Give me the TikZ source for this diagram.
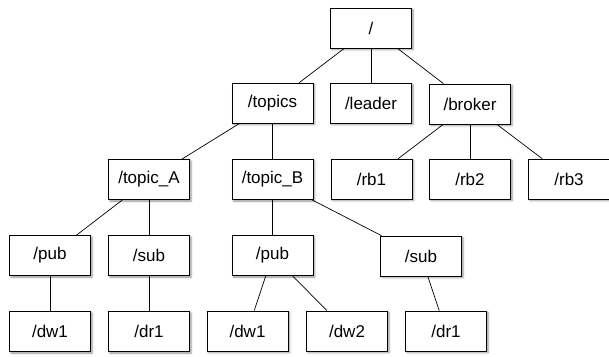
\documentclass[tikz,border=0pt]{standalone}
\usepackage{fontspec}
\setmainfont{Liberation Sans}
\usepackage{tikz}
\usetikzlibrary{shadows.blur}

\begin{document}
\begin{tikzpicture}[x=1pt, y=-1pt,
    znode/.style={draw, fill=white, line width=0.8pt,
      minimum width=81pt, minimum height=40pt, inner sep=0pt,
      font=\fontsize{17}{20}\selectfont,
      blur shadow={shadow xshift=1.5pt, shadow yshift=-1.5pt,
        shadow blur radius=2pt, shadow opacity=45}},
    zedge/.style={line width=0.7pt}]

    \useasboundingbox (0, 0) rectangle (609, 356);

    \node [znode] (root) at (371, 28) {/};

    \node [znode] (topics) at (272.5, 103) {/topics};
    \node [znode] (leader) at (371, 103) {/leader};
    \node [znode] (broker) at (470, 104) {/broker};

    \node [znode] (topicA) at (149, 179.5) {/topic\_A};
    \node [znode] (topicB) at (272.5, 179.5) {/topic\_B};
    \node [znode] (rb1) at (371.5, 179) {/rb1};
    \node [znode] (rb2) at (470, 179) {/rb2};
    \node [znode] (rb3) at (569, 179) {/rb3};

    \node [znode] (pubA) at (50, 255.5) {/pub};
    \node [znode] (subA) at (149, 255.5) {/sub};
    \node [znode] (pubB) at (272.5, 255.5) {/pub};
    \node [znode] (subB) at (421, 256) {/sub};

    \node [znode] (dwA) at (50, 331.5) {/dw1};
    \node [znode] (drA) at (149, 331.5) {/dr1};
    \node [znode] (dwB) at (247.5, 331) {/dw1};
    \node [znode] (dwBB) at (347, 331) {/dw2};
    \node [znode] (drB) at (446, 331) {/dr1};

    \draw [zedge] (root) -- (topics);
    \draw [zedge] (root) -- (leader);
    \draw [zedge] (root) -- (broker);

    \draw [zedge] (topics) -- (topicA);
    \draw [zedge] (topics) -- (topicB);
    \draw [zedge] (broker) -- (rb1);
    \draw [zedge] (broker) -- (rb2);
    \draw [zedge] (broker) -- (rb3);

    \draw [zedge] (topicA) -- (pubA);
    \draw [zedge] (topicA) -- (subA);
    \draw [zedge] (topicB) -- (pubB);
    \draw [zedge] (topicB) -- (subB);

    \draw [zedge] (pubA) -- (dwA);
    \draw [zedge] (subA) -- (drA);
    \draw [zedge] (pubB) -- (dwB);
    \draw [zedge] (pubB) -- (dwBB);
    \draw [zedge] (subB) -- (drB);

\end{tikzpicture}
\end{document}
